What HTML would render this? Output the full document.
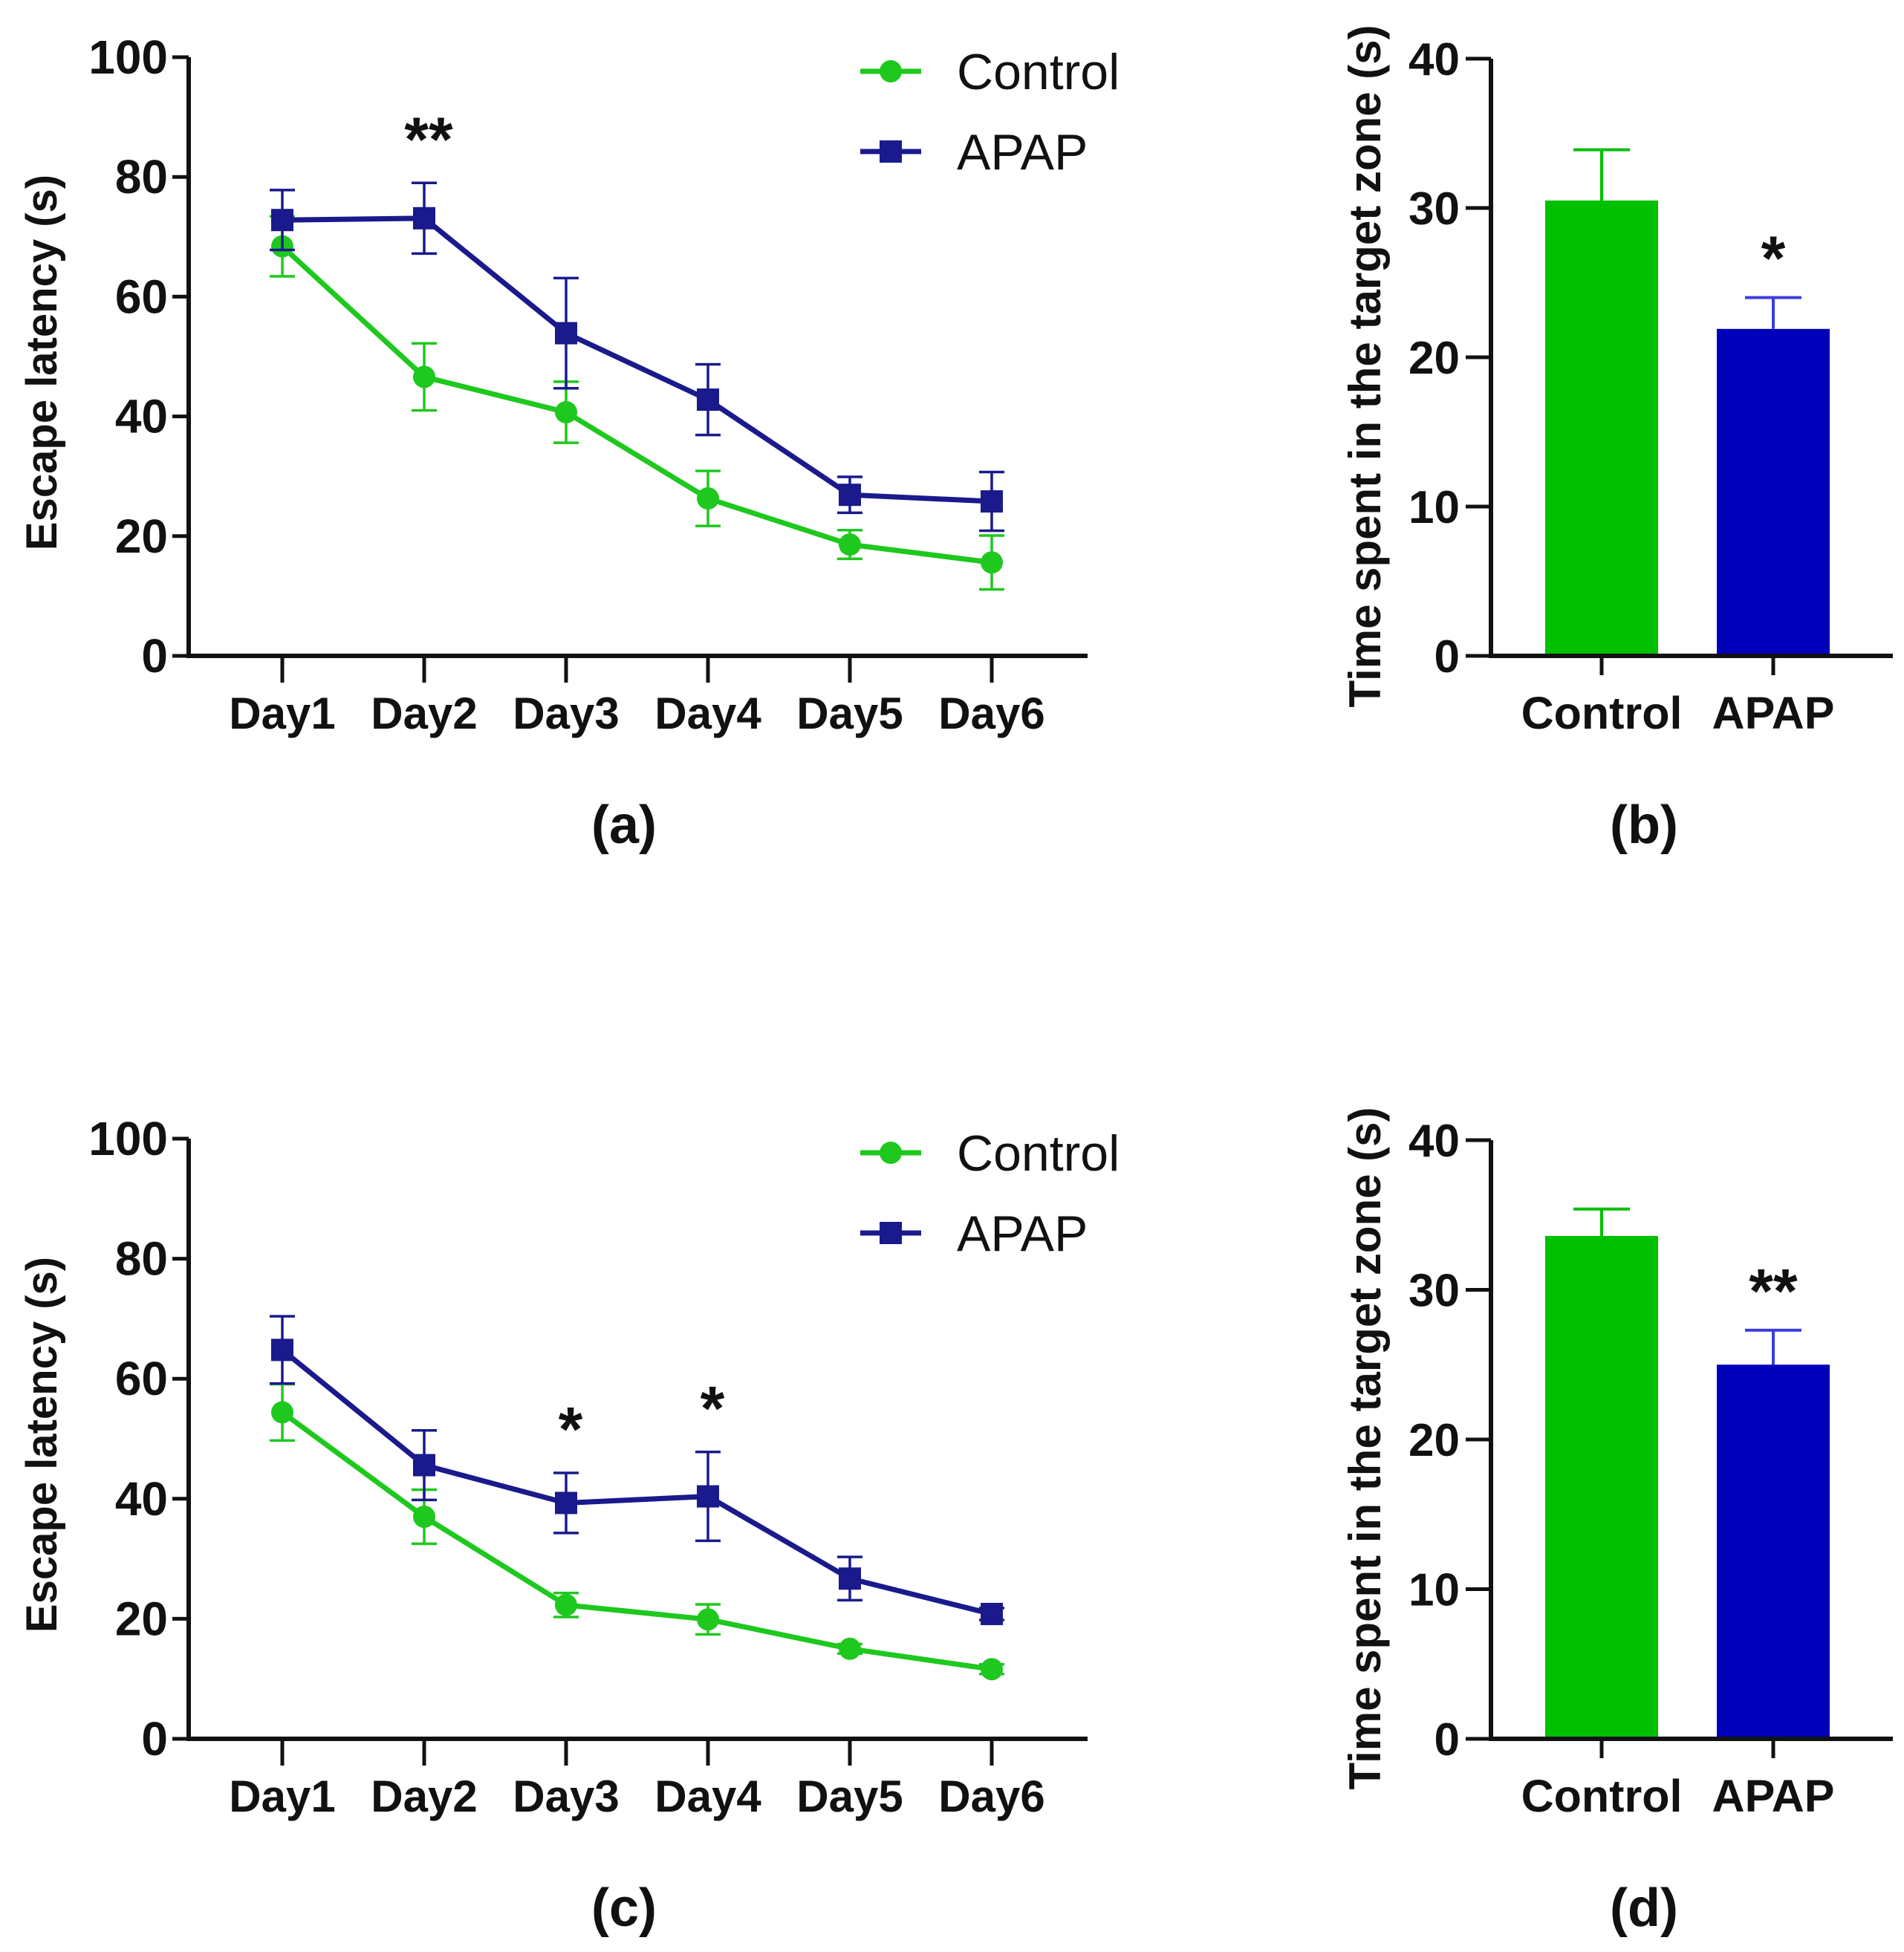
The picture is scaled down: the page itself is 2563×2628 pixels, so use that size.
<!DOCTYPE html>
<html><head><meta charset="utf-8"><style>
html,body{margin:0;padding:0;background:#fff}
svg{display:block}
.nar{font-family:"Liberation Sans Narrow","Liberation Sans",sans-serif;font-weight:bold}
.bold{font-family:"Liberation Sans",sans-serif;font-weight:bold}
.reg{font-family:"Liberation Sans Narrow","Liberation Sans",sans-serif}
</style></head><body>
<svg id="fig" width="2563" height="2628" viewBox="0 0 2563 2628" xmlns="http://www.w3.org/2000/svg"></svg>
<script>
const days = ["Day1","Day2","Day3","Day4","Day5","Day6"];
const yTicksLine = [0,20,40,60,80,100];
const yTicksBar = [0,10,20,30,40];
const groups = ["Control","APAP"];
const aControl = [68.4,46.6,40.7,26.3,18.6,15.6];
const aControlErr = [5,5.6,5.1,4.6,2.4,4.5];
const aApap = [72.8,73.1,53.9,42.8,26.9,25.8];
const aApapErr = [5,5.9,9.2,5.9,3,4.9];
const aStars = ["","**","","","",""];
const bMeans = [30.5,21.9];
const bErr = [3.4,2.1];
const bStars = ["","*"];
const cControl = [54.4,37.0,22.3,19.9,15.0,11.6];
const cControlErr = [4.7,4.5,2,2.5,0.8,0.8];
const cApap = [64.8,45.6,39.3,40.4,26.7,20.8];
const cApapErr = [5.6,5.8,5,7.4,3.6,1];
const cStars = ["","","*","*","",""];
const dMeans = [33.6,25.0];
const dErr = [1.8,2.3];
const dStars = ["","**"];

const NS="http://www.w3.org/2000/svg";
const svg=document.getElementById('fig');
const GREEN="#1ec81e", BLUE="#1a1a8c", BARG="#00c000", BARB="#0000bb", BARBE="#3d3de0";
function mk(tag,attrs,parent){const e=document.createElementNS(NS,tag);for(const k in attrs)e.setAttribute(k,attrs[k]);(parent||svg).appendChild(e);return e;}
function txt(s,x,y,cls,size,anchor,parent){const t=mk('text',{x:x,y:y,'class':cls,'font-size':size,'text-anchor':anchor||'middle',fill:'#111'},parent);t.textContent=s;return t;}

function linePanel(top,y0,y100,ctl,ctlE,apap,apapE,stars,label,key){
  const g=mk('g',{});
  
  
  const ax=254, xEnd=1464, x1=380, dx=191;
  const Y=v=>y0-(v/100)*(y0-y100);
  const X=i=>x1+i*dx;
  const axes=mk('path',{d:`M${ax},${y100} L${ax},${y0} L${xEnd},${y0}`,stroke:'#111','stroke-width':6,fill:'none'},g);
  
  
  yTicksLine.forEach(v=>{
    mk('line',{x1:ax-22,x2:ax,y1:Y(v),y2:Y(v),stroke:'#111','stroke-width':5},g);
    const t=txt(String(v),ax-28,Y(v)+22,'nar',64,'end',g);
    
    
  });
  days.forEach((d,i)=>{
    mk('line',{x1:X(i),x2:X(i),y1:y0,y2:y0+36,stroke:'#111','stroke-width':5},g);
    const t=txt(d,X(i),y0+98,'nar',60,'middle',g);
    
    
  });
  const yt=txt('Escape latency (s)',0,0,'bold',58,'middle',g);
  yt.setAttribute('transform',`translate(76,${(y0+y100)/2+8}) rotate(-90)`);
  
  
  function series(vals,errs,col,name,sq){
    const sg=mk('g',{},g);
    
    
    vals.forEach((v,i)=>{
      const e=errs[i];
      mk('path',{d:`M${X(i)},${Y(v+e)} L${X(i)},${Y(v-e)} M${X(i)-17},${Y(v+e)} L${X(i)+17},${Y(v+e)} M${X(i)-17},${Y(v-e)} L${X(i)+17},${Y(v-e)}`,stroke:col,'stroke-width':3.5,fill:'none'},sg);
    });
    const line=mk('polyline',{points:vals.map((v,i)=>X(i)+','+Y(v)).join(' '),stroke:col,'stroke-width':7,fill:'none'},sg);
    
    
    vals.forEach((v,i)=>{
      let m;
      if(sq) m=mk('rect',{x:X(i)-15,y:Y(v)-15,width:30,height:30,fill:col},sg);
      else m=mk('circle',{cx:X(i),cy:Y(v),r:15,fill:col},sg);
      
      
    });
  }
  series(ctl,ctlE,GREEN,'control',false);
  series(apap,apapE,BLUE,'apap',true);
  stars.forEach((s,i)=>{
    if(!s)return;
    const top2=Math.max(ctl[i]+ctlE[i],apap[i]+apapE[i]);
    const t=txt(s,X(i)+6,Y(top2)-30,'bold',84,'middle',g);
    
    
  });
  const lg=mk('g',{},g);
  
  
  const ly1=top+96, ly2=top+204;
  mk('line',{x1:1158,x2:1240,y1:ly1,y2:ly1,stroke:GREEN,'stroke-width':7},lg);
  mk('circle',{cx:1199,cy:ly1,r:15,fill:GREEN},lg);
  const l1=txt('Control',1288,ly1+24,'reg',68,'start',lg);
  
  
  mk('line',{x1:1158,x2:1240,y1:ly2,y2:ly2,stroke:BLUE,'stroke-width':7},lg);
  mk('rect',{x:1184,y:ly2-15,width:30,height:30,fill:BLUE},lg);
  const l2=txt('APAP',1288,ly2+24,'reg',68,'start',lg);
  
  
  const pl=txt(label,840,y0+252,'bold',72,'middle',g);
  
  
}

function barPanel(y0,y40,means,errs,stars,label,key){
  const g=mk('g',{});
  
  
  const ax=2007, xEnd=2548;
  const Y=v=>y0-(v/40)*(y0-y40);
  const cx=[2156,2387], bw=152;
  const cols=[BARG,BARB], ecols=[BARG,BARBE];
  means.forEach((v,i)=>{
    const e=errs[i];
    mk('path',{d:`M${cx[i]},${Y(v)} L${cx[i]},${Y(v+e)} M${cx[i]-38},${Y(v+e)} L${cx[i]+38},${Y(v+e)}`,stroke:ecols[i],'stroke-width':4,fill:'none'},g);
    const r=mk('rect',{x:cx[i]-bw/2,y:Y(v),width:bw,height:y0-Y(v),fill:cols[i]},g);
    
    
    if(stars[i]){
      const t=txt(stars[i],cx[i],Y(v+e)-24,'bold',84,'middle',g);
      
      
    }
    mk('line',{x1:cx[i],x2:cx[i],y1:y0,y2:y0+26,stroke:'#111','stroke-width':5},g);
    const lt=txt(groups[i],cx[i],y0+98,'bold',61,'middle',g);
    
    
  });
  const axes=mk('path',{d:`M${ax},${y40} L${ax},${y0} L${xEnd},${y0}`,stroke:'#111','stroke-width':6,fill:'none'},g);
  
  
  yTicksBar.forEach(v=>{
    mk('line',{x1:ax-34,x2:ax,y1:Y(v),y2:Y(v),stroke:'#111','stroke-width':5},g);
    const t=txt(String(v),ax-42,Y(v)+22,'bold',62,'end',g);
    
    
  });
  const yt=txt('Time spent in the target zone (s)',0,0,'bold',60,'middle',g);
  yt.setAttribute('transform',`translate(1858,${(y0+y40)/2+12}) rotate(-90)`);
  
  
  const pl=txt(label,2213,y0+252,'bold',72,'middle',g);
  
  
}

linePanel(0,883,77,aControl,aControlErr,aApap,aApapErr,aStars,'(a)','a');
barPanel(883,79,bMeans,bErr,bStars,'(b)','b');
linePanel(1456,2341,1533,cControl,cControlErr,cApap,cApapErr,cStars,'(c)','c');
barPanel(2341,1535,dMeans,dErr,dStars,'(d)','d');
</script>
</body></html>
